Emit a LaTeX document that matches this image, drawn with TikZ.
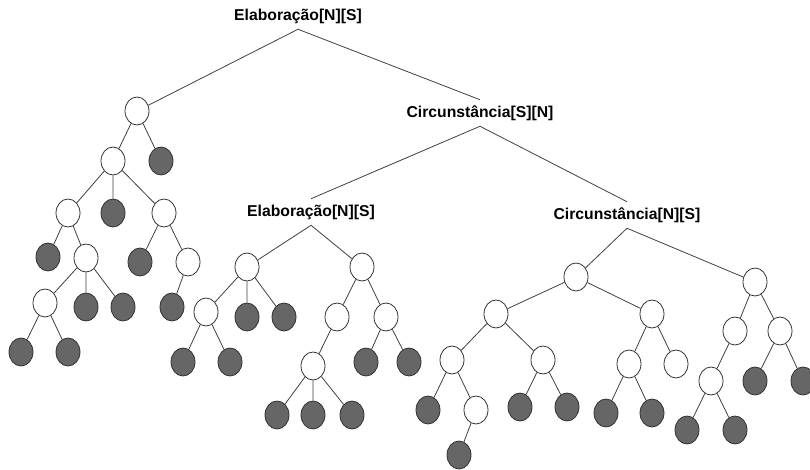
\documentclass[tikz,border=0pt]{standalone}
\usepackage{fontspec}
\setmainfont{Liberation Sans}
\usetikzlibrary{shapes.geometric}
\begin{document}
\begin{tikzpicture}[x=0.75pt,y=-0.75pt,
  leaf/.style={ellipse,draw=black!80,line width=0.6pt,minimum width=18pt,minimum height=21pt,inner sep=0pt},
  inner/.style={leaf,fill=white},
  term/.style={leaf,fill=black!60},
  rel/.style={font=\fontsize{11.8}{13}\bfseries\selectfont,inner sep=0pt,minimum height=19.5pt},
  link/.style={draw=black!75,line width=0.6pt}]
\useasboundingbox (0,0) rectangle (810,470);
% relation labels
\node[rel] (r0) at (298,16) {Elaboração[N][S]};
\node[rel] (r1) at (480,113) {Circunstância[S][N]};
\node[rel] (r2) at (311,212) {Elaboração[N][S]};
\node[rel] (r3) at (627,215) {Circunstância[N][S]};
% left subtree
\node[inner] (A) at (137,111) {};
\node[inner] (B) at (113,161) {};
\node[term]  (C) at (161,161) {};
\node[inner] (D) at (68,213) {};
\node[term]  (E) at (113,213) {};
\node[inner] (F) at (164,213) {};
\node[term]  (D1) at (48,257) {};
\node[inner] (G) at (86,258) {};
\node[term]  (F1) at (140,262) {};
\node[inner] (H) at (188,262) {};
\node[inner] (I) at (45,303) {};
\node[term]  (G2) at (86,307) {};
\node[term]  (G3) at (123,307) {};
\node[term]  (H1) at (172,307) {};
\node[term]  (I1) at (21,352) {};
\node[term]  (I2) at (68,352) {};
% middle subtree
\node[inner] (J) at (247,267) {};
\node[inner] (K) at (362,267) {};
\node[inner] (L) at (206,312) {};
\node[term]  (J2) at (247,317) {};
\node[term]  (J3) at (284,317) {};
\node[term]  (L1) at (183,362) {};
\node[term]  (L2) at (230,362) {};
\node[inner] (M) at (337,317) {};
\node[inner] (N) at (386,317) {};
\node[inner] (O) at (313,366) {};
\node[term]  (O1) at (277,415) {};
\node[term]  (O2) at (313,415) {};
\node[term]  (O3) at (352,415) {};
\node[term]  (N1) at (366,362) {};
\node[term]  (N2) at (409,362) {};
% right subtree
\node[inner] (P) at (576,277) {};
\node[inner] (Q) at (496,314) {};
\node[inner] (R) at (652,314) {};
\node[inner] (S) at (452,360) {};
\node[inner] (T) at (543,360) {};
\node[term]  (S1) at (428,410) {};
\node[inner] (U) at (476,410) {};
\node[term]  (U1) at (459,455) {};
\node[term]  (T1) at (520,407) {};
\node[term]  (T2) at (567,407) {};
\node[inner] (V) at (629,364) {};
\node[inner] (W) at (676,364) {};
\node[term]  (V1) at (606,413) {};
\node[term]  (V2) at (652,413) {};
\node[inner] (X) at (755,282) {};
\node[inner] (Y) at (735,331) {};
\node[inner] (Z) at (780,331) {};
\node[inner] (AA) at (711,381) {};
\node[term]  (AA1) at (687,430) {};
\node[term]  (AA2) at (735,430) {};
\node[term]  (Z1) at (755,381) {};
\node[term]  (Z2) at (803,381) {};
% connectors
\path[link]
  (r0.south) -- (A) (r0.south) -- (r1.north)
  (r1.south) -- (r2.north) (r1.south) -- (r3.north)
  (A) -- (B) (A) -- (C)
  (B) -- (D) (B) -- (E) (B) -- (F)
  (D) -- (D1) (D) -- (G)
  (F) -- (F1) (F) -- (H)
  (G) -- (I) (G) -- (G2) (G) -- (G3)
  (H) -- (H1)
  (I) -- (I1) (I) -- (I2)
  (r2.south) -- (J) (r2.south) -- (K)
  (J) -- (L) (J) -- (J2) (J) -- (J3)
  (L) -- (L1) (L) -- (L2)
  (K) -- (M) (K) -- (N)
  (M) -- (O)
  (O) -- (O1) (O) -- (O2) (O) -- (O3)
  (N) -- (N1) (N) -- (N2)
  (r3.south) -- (P) (r3.south) -- (X)
  (P) -- (Q) (P) -- (R)
  (Q) -- (S) (Q) -- (T)
  (S) -- (S1) (S) -- (U)
  (U) -- (U1)
  (T) -- (T1) (T) -- (T2)
  (R) -- (V) (R) -- (W)
  (V) -- (V1) (V) -- (V2)
  (X) -- (Y) (X) -- (Z)
  (Y) -- (AA)
  (AA) -- (AA1) (AA) -- (AA2)
  (Z) -- (Z1) (Z) -- (Z2);
\end{tikzpicture}
\end{document}
